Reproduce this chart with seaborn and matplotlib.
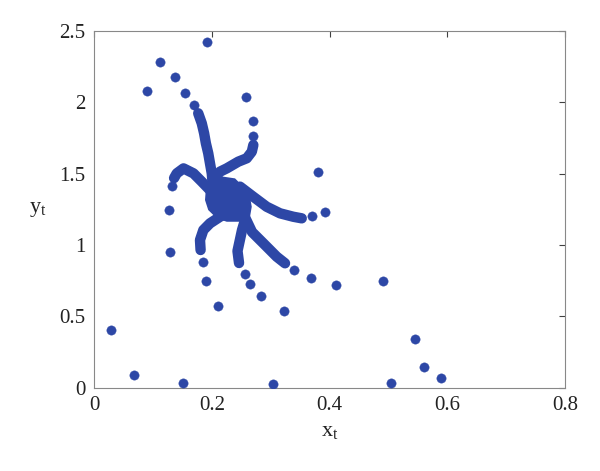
import matplotlib
matplotlib.use("Agg")
import matplotlib.pyplot as plt
import seaborn as sns

# -----------------------
# Data
# -----------------------
# dense centre blob (outline)
blob_x = [0.194, 0.2196, 0.2395, 0.2536, 0.265, 0.2679, 0.265, 0.248, 0.2254, 0.2084, 0.194, 0.1885, 0.190]
blob_y = [1.444, 1.479, 1.467, 1.409, 1.338, 1.268, 1.198, 1.163, 1.163, 1.187, 1.245, 1.315, 1.397]

# thick arms (dense runs of points) leaving the blob
arm_up_x = [0.205, 0.202, 0.200, 0.197, 0.194, 0.190, 0.187, 0.183, 0.177]
arm_up_y = [1.330, 1.406, 1.502, 1.572, 1.643, 1.713, 1.783, 1.853, 1.923]

arm_upright_x = [0.215, 0.2055, 0.214, 0.2254, 0.245, 0.2594, 0.268, 0.2706]
arm_upright_y = [1.400, 1.467, 1.514, 1.537, 1.584, 1.608, 1.654, 1.701]

arm_right_x = [0.235, 0.248, 0.2706, 0.2933, 0.316, 0.3385, 0.3528]
arm_right_y = [1.380, 1.409, 1.338, 1.268, 1.222, 1.198, 1.187]

arm_lowright_x = [0.245, 0.2548, 0.2684, 0.2876, 0.3103, 0.3244]
arm_lowright_y = [1.250, 1.209, 1.091, 1.012, 0.918, 0.872]

arm_low_x = [0.250, 0.2565, 0.2514, 0.2437, 0.2463]
arm_low_y = [1.250, 1.175, 1.105, 0.958, 0.874]

arm_lowleft_x = [0.225, 0.214, 0.197, 0.1857, 0.180, 0.181]
arm_lowleft_y = [1.220, 1.198, 1.152, 1.105, 1.035, 0.965]

arm_left_x = [0.205, 0.194, 0.183, 0.169, 0.152, 0.1405, 0.136]
arm_left_y = [1.350, 1.397, 1.444, 1.502, 1.537, 1.502, 1.469]

# single scattered points
dots_x = [0.169, 0.155, 0.138, 0.112, 0.0895, 0.192,
          0.2706, 0.2696, 0.2587,
          0.3698, 0.3924, 0.3809,
          0.3397, 0.3681, 0.411, 0.4914,
          0.2565, 0.265, 0.2837, 0.3232,
          0.1846, 0.190, 0.2106,
          0.132, 0.128, 0.129,
          0.0289, 0.0685, 0.1506, 0.3035, 0.5045, 0.545, 0.5605, 0.589]
dots_y = [1.981, 2.067, 2.179, 2.280, 2.079, 2.423,
          1.764, 1.869, 2.037,
          1.203, 1.233, 1.514,
          0.828, 0.772, 0.723, 0.748,
          0.795, 0.727, 0.643, 0.537,
          0.883, 0.750, 0.575,
          1.413, 1.245, 0.953,
          0.407, 0.091, 0.033, 0.024, 0.033, 0.341, 0.147, 0.068]

x_ticks = [0, 0.2, 0.4, 0.6, 0.8]
x_tick_labels = ["0", "0.2", "0.4", "0.6", "0.8"]
y_ticks = [0, 0.5, 1, 1.5, 2, 2.5]
y_tick_labels = ["0", "0.5", "1", "1.5", "2", "2.5"]

# -----------------------
# Style
# -----------------------
sns.set_style("white")
plt.rcParams["font.family"] = ["Liberation Serif", "DejaVu Serif"]
plt.rcParams["mathtext.fontset"] = "custom"
plt.rcParams["mathtext.rm"] = "Liberation Serif"

BLUE = "#2D47A6"

fig = plt.figure(figsize=(6, 4.71), dpi=100)
ax = fig.add_axes([0.1567, 0.1769, 0.785, 0.7573])

# -----------------------
# Draw
# -----------------------
ax.fill(blob_x, blob_y, color=BLUE, lw=0, zorder=2)

arms = [(arm_up_x, arm_up_y), (arm_upright_x, arm_upright_y),
        (arm_right_x, arm_right_y), (arm_lowright_x, arm_lowright_y),
        (arm_low_x, arm_low_y), (arm_lowleft_x, arm_lowleft_y),
        (arm_left_x, arm_left_y)]
for arm_x, arm_y in arms:
    sns.lineplot(x=arm_x, y=arm_y, sort=False, estimator=None, ax=ax,
                 color=BLUE, lw=7.5, solid_capstyle="round", zorder=3)

sns.scatterplot(x=dots_x, y=dots_y, ax=ax, color=BLUE, s=45,
                edgecolor=BLUE, linewidth=0.3, zorder=4)

ax.set_xlim(0, 0.8)
ax.set_ylim(0, 2.5)
ax.set_xticks(x_ticks)
ax.set_xticklabels(x_tick_labels)
ax.set_yticks(y_ticks)
ax.set_yticklabels(y_tick_labels)

ax.tick_params(direction="in", length=4, width=0.8, colors="#404040",
               labelcolor="#222222", labelsize=15, top=True, right=True, pad=6)
for sp in ax.spines.values():
    sp.set_visible(True)
    sp.set_color("#888888")
    sp.set_linewidth(0.8)

ax.set_xlabel(r"$\mathregular{x_t}$", fontsize=16, color="#222222", labelpad=5)
ax.set_ylabel(r"$\mathregular{y_t}$", fontsize=16, color="#222222",
              rotation=0, labelpad=16, va="center")

fig.savefig("out.png", dpi=100)
